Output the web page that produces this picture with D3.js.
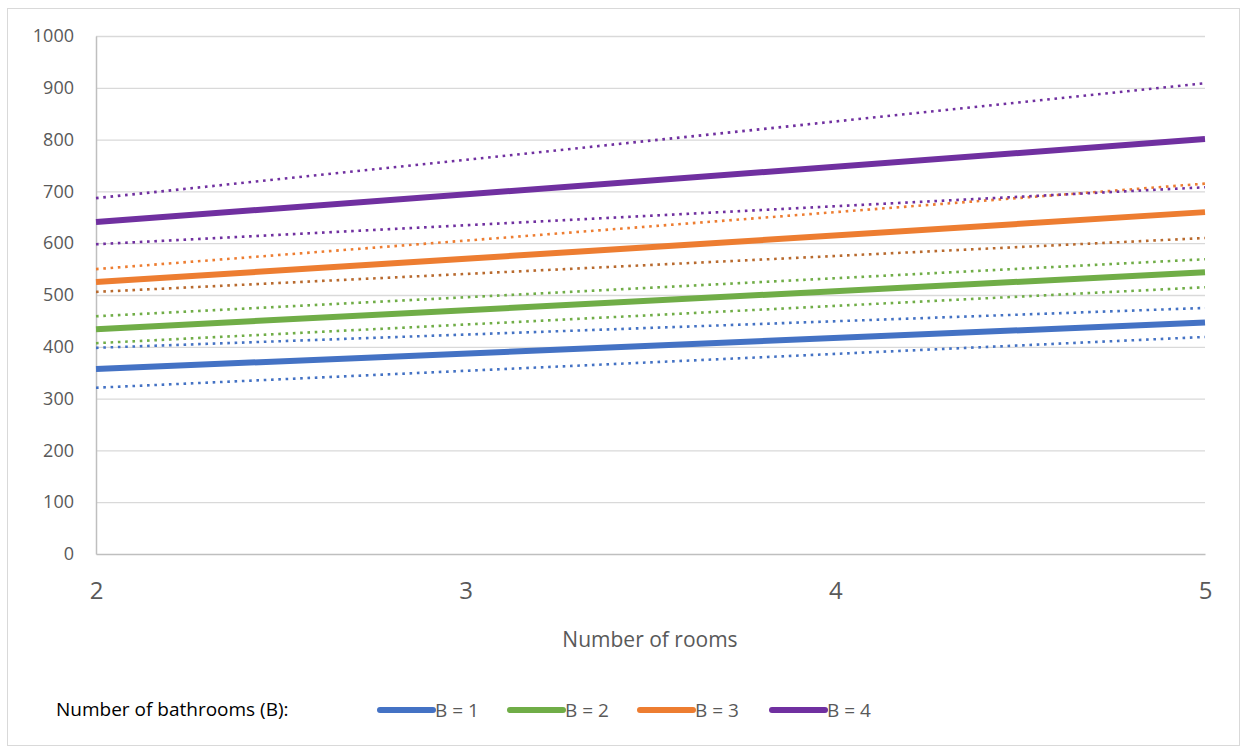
<!DOCTYPE html>
<html><head><meta charset="utf-8">
<script src="https://cdn.jsdelivr.net/npm/d3@7"></script>
<style>body{margin:0;background:#fff}svg{display:block}text{font-family:"Open Sans","Liberation Sans",sans-serif}</style>
</head><body><svg id="c" width="1243" height="747"></svg>
<script>
const rooms = [2, 5];
const yTicks = [0,100,200,300,400,500,600,700,800,900,1000];
const xTicks = [2,3,4,5];
const seriesNames = ["B = 1","B = 2","B = 3","B = 4"];
const colors = ["#4472C4","#70AD47","#ED7D31","#7030A0"];
const fitted = [[357,447],[434,544],[525,660],[641,801]];
const upper  = [[398,475],[459,569],[550,715],[687,909]];
const lower  = [[321,419],[407,515],[506,610],[598,708]];
const lowerColors = ["#4472C4","#70AD47","#B86A2E","#7030A0"];

const svg = d3.select("#c");
svg.append("rect").attr("x",7.5).attr("y",8.5).attr("width",1232).attr("height",737)
  .attr("fill","#fff").attr("stroke","#d9d9d9");

const x = d3.scaleLinear().domain([2,5]).range([96,1205]);
const y = d3.scaleLinear().domain([0,1000]).range([554,36]);

svg.append("g").selectAll("line").data(yTicks.filter(d=>d>0)).join("line")
  .attr("x1",96).attr("x2",1205).attr("y1",d=>y(d)+0.5).attr("y2",d=>y(d)+0.5)
  .attr("stroke","#d9d9d9").attr("stroke-width",1.3);

const ya = svg.append("g").attr("transform","translate(96,0)")
  .call(d3.axisLeft(y).tickValues(yTicks).tickFormat(d3.format("d")).tickSize(0).tickPadding(22));
ya.select(".domain").attr("stroke","#bfbfbf").attr("stroke-width",1.5);
ya.selectAll("text").attr("font-size",18).attr("fill","#595959");

const xa = svg.append("g").attr("transform","translate(0,554)")
  .call(d3.axisBottom(x).tickValues(xTicks).tickFormat(d3.format("d")).tickSize(0).tickPadding(28));
xa.select(".domain").attr("stroke","#bfbfbf").attr("stroke-width",1.5);
xa.selectAll("text").attr("font-size",24).attr("fill","#595959");

svg.append("text").attr("x",650).attr("y",647).attr("text-anchor","middle")
  .attr("font-size",21).attr("fill","#595959").text("Number of rooms");

const line = d3.line().x((d,i)=>x(rooms[i])).y(d=>y(d));

upper.forEach((s,i)=>{
  svg.append("path").attr("d",line(s)).attr("fill","none").attr("stroke",colors[i])
    .attr("stroke-width",2.6).attr("stroke-dasharray","2.6 4.7");
});
lower.forEach((s,i)=>{
  svg.append("path").attr("d",line(s)).attr("fill","none").attr("stroke",lowerColors[i])
    .attr("stroke-width",2.6).attr("stroke-dasharray","2.6 4.7");
});
fitted.forEach((s,i)=>{
  svg.append("path").attr("d",line(s)).attr("fill","none").attr("stroke",colors[i])
    .attr("stroke-width",6);
});

svg.append("text").attr("x",56).attr("y",716).attr("font-size",19).attr("fill","#000")
  .text("Number of bathrooms (B):");
const legX = [380,510,640,772];
seriesNames.forEach((n,i)=>{
  svg.append("line").attr("x1",legX[i]).attr("x2",legX[i]+53).attr("y1",710).attr("y2",710)
    .attr("stroke",colors[i]).attr("stroke-width",6).attr("stroke-linecap","round");
  svg.append("text").attr("x",legX[i]+55).attr("y",717).attr("font-size",19).attr("fill","#595959").text(n);
});
</script></body></html>
